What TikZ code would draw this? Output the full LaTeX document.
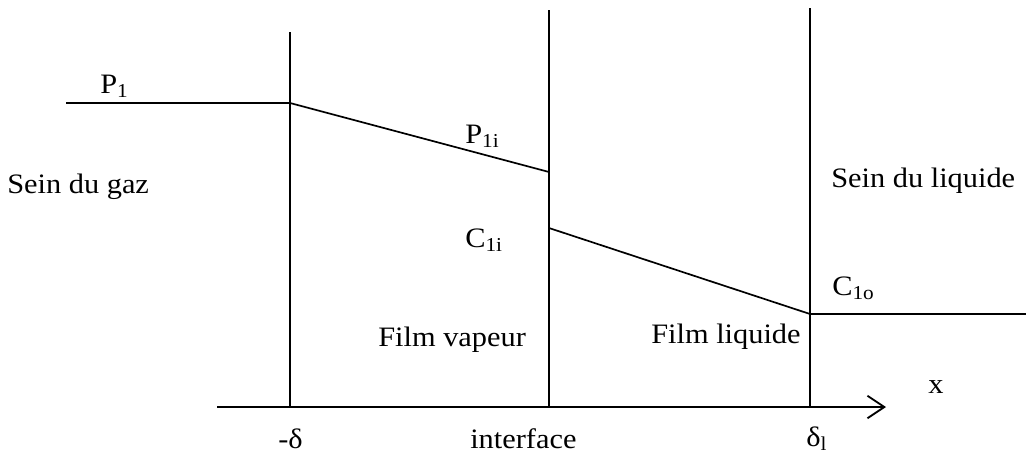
\documentclass[tikz,border=0pt]{standalone}
\usepackage{fontspec}
\setmainfont{Liberation Serif}[FakeStretch=1.08]
\usepackage{tikz}
\usetikzlibrary{arrows.meta,positioning}

\begin{document}
\begin{tikzpicture}[
    x=0.025cm, y=-0.025cm,
    wall/.style={line width=1.3pt},
    prof/.style={line width=1.2pt},
    lbl/.style={anchor=base west, inner sep=0pt, font=\fontsize{20}{24}\selectfont},
    arr/.style={-{Straight Barb[length=12pt, width=16pt]}, line width=1.3pt}
]
\useasboundingbox (0,0) rectangle (1026,455);

% film boundaries and axis
\coordinate (w1t) at (290,32);  \coordinate (w1b) at (290,407);
\coordinate (w2t) at (549,10);  \coordinate (w2b) at (549,407);
\coordinate (w3t) at (810,8);   \coordinate (w3b) at (810,407);
\coordinate (ax0) at (217,407); \coordinate (ax1) at (886,407);

% concentration profile
\coordinate (g0) at (66,103);
\coordinate (g1) at (290,103);
\coordinate (g2) at (549,172);
\coordinate (l1) at (549,228);
\coordinate (l2) at (810,314);
\coordinate (l3) at (1026,314);

\node[lbl] (p1)   at (100,93)  {P\textsubscript{1}};
\node[lbl] (p1i)  at (465,143) {P\textsubscript{1i}};
\node[lbl] (c1i)  at (465,247) {C\textsubscript{1i}};
\node[lbl] (c1o)  at (832,295) {C\textsubscript{1o}};
\node[lbl] (gaz)  at (7,193)   {Sein du gaz};
\node[lbl] (liq)  at (831,187) {Sein du liquide};
\node[lbl] (fvap) at (378,346) {Film vapeur};
\node[lbl] (fliq) at (651,343) {Film liquide};
\node[lbl] (xlab) at (928,393) {x};
\node[lbl] (dg)   at (278,448) {-δ};
\node[lbl] (intf) at (470,448) {interface};
\node[lbl] (dl)   at (806,446) {δ\textsubscript{l}};

\draw[wall] (w1t) -- (w1b);
\draw[wall] (w2t) -- (w2b);
\draw[wall] (w3t) -- (w3b);
\draw[arr] (ax0) -- (ax1);

\draw[prof] (g0) -- (g1) -- (g2);
\draw[prof] (l1) -- (l2) -- (l3);
\end{tikzpicture}
\end{document}
